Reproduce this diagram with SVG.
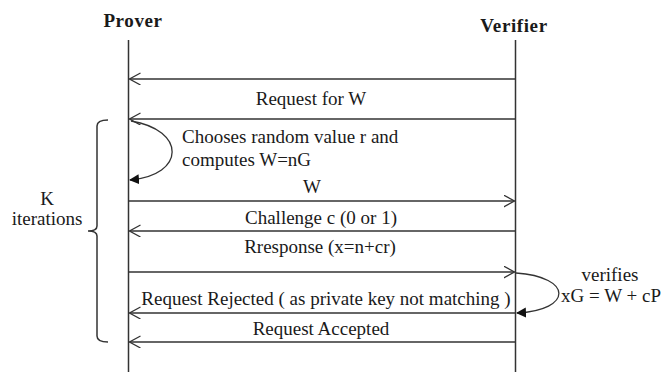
<svg xmlns="http://www.w3.org/2000/svg" width="661" height="372" viewBox="0 0 661 372">
<defs>
<marker id="open" markerWidth="14" markerHeight="14" refX="11" refY="6" orient="auto" markerUnits="userSpaceOnUse">
<path d="M0,0 L11,6 L0,12" fill="none" stroke="#333" stroke-width="1.3"/>
</marker>
<marker id="filled" markerWidth="12" markerHeight="12" refX="9" refY="5" orient="auto" markerUnits="userSpaceOnUse">
<path d="M0,0 L10,5 L0,10 Z" fill="#111"/>
</marker>
<style>
text{fill:#1a1a1a;font-size:19px}
.h{font-weight:bold;font-size:19px;letter-spacing:0.6px}
.m{text-anchor:middle}
.ln{stroke:#333;stroke-width:1.5;fill:none}
.ar{stroke:#333;stroke-width:1.4;fill:none;marker-end:url(#open)}
.lp{stroke:#333;stroke-width:1.3;fill:none;marker-end:url(#filled)}
</style>
</defs>
<rect width="661" height="372" fill="#fff"/>
<g font-family="Liberation Serif, serif">
<g id="prover">
<text class="h m" x="133" y="27">Prover</text>
<line class="ln" x1="128.5" y1="40" x2="128.5" y2="372"/>
</g>
<g id="verifier">
<text class="h m" x="514" y="32">Verifier</text>
<line class="ln" x1="515.5" y1="40" x2="515.5" y2="372"/>
</g>
<g id="iterations">
<path class="ln" d="M108,120 Q97,120 97,126 L97,226 Q97,231 88,231 Q97,231 97,236 L97,336 Q97,342 108,342"/>
<text class="m" x="47" y="205">K</text>
<text class="m" x="47" y="225">iterations</text>
</g>
<g id="connectors">
<line class="ar" x1="515" y1="79" x2="129.5" y2="79"/>
<line class="ar" x1="515" y1="119" x2="129.5" y2="119"/>
<path class="lp" d="M131,121 C186,130 186,175 130,180"/>
<line class="ar" x1="128.5" y1="201" x2="514.5" y2="201"/>
<line class="ar" x1="515" y1="231" x2="129.5" y2="231"/>
<line class="ar" x1="128.5" y1="272" x2="514.5" y2="272"/>
<path class="lp" d="M516,273 C573,277 573,310 517,313"/>
<line class="ar" x1="515" y1="313" x2="129.5" y2="313"/>
<line class="ar" x1="515" y1="342" x2="129.5" y2="342"/>
</g>
<g id="labels">
<text class="m" x="311" y="105">Request for W</text>
<text x="182" y="143">Chooses random value r and</text>
<text x="182" y="166">computes W=nG</text>
<text class="m" x="312" y="193">W</text>
<text class="m" x="321" y="224">Challenge  c (0 or 1)</text>
<text class="m" x="320" y="253">Rresponse (x=n+cr)</text>
<text class="m" x="326" y="305">Request Rejected ( as private key not matching )</text>
<text class="m" x="321" y="335">Request Accepted</text>
<text class="m" x="610" y="281">verifies</text>
<text class="m" x="611" y="302">xG = W + cP</text>
</g>
</g>
</svg>
